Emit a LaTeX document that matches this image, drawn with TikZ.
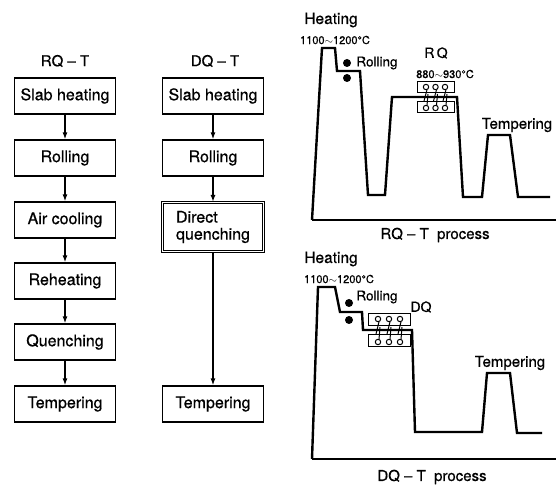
\documentclass[tikz,border=0pt]{standalone}
\usepackage{fontspec}
\setmainfont{TeX Gyre Heros}[FakeBold=0.6]
\usetikzlibrary{arrows.meta}

\begin{document}
\begin{tikzpicture}[x=1pt, y=-1pt,
    stepbox/.style={draw, line width=1.3pt, minimum width=101pt, minimum height=36pt, inner sep=1pt, font=\fontsize{16}{17}\selectfont},
    flow/.style={-{Latex[length=7pt,width=5pt]}, line width=1.8pt},
    curve/.style={line width=2.4pt, line join=miter},
    lbl/.style={inner sep=0pt, font=\fontsize{15}{16}\selectfont},
    small/.style={inner sep=0pt, font=\fontsize{11}{12}\selectfont}]
    \useasboundingbox (0,0) rectangle (557,486);

    % --- RQ-T flow (left) ---
    \node[lbl] (rqtitle) at (65,61) {RQ -- T};
    \node[stepbox] (rqslab) at (65,96) {Slab heating};
    \node[stepbox] (rqroll) at (65,158) {Rolling};
    \node[stepbox] (rqair) at (65,220) {Air cooling};
    \node[stepbox] (rqreheat) at (65,281) {Reheating};
    \node[stepbox] (rqquench) at (65,342) {Quenching};
    \node[stepbox] (rqtemper) at (65,404) {Tempering};

    \draw[flow] (rqslab) -- (rqroll);
    \draw[flow] (rqroll) -- (rqair);
    \draw[flow] (rqair) -- (rqreheat);
    \draw[flow] (rqreheat) -- (rqquench);
    \draw[flow] (rqquench) -- (rqtemper);

    % --- DQ-T flow (middle) ---
    \node[lbl] (dqtitle) at (215,61) {DQ -- T};
    \node[stepbox] (dqslab) at (213,96) {Slab heating};
    \node[stepbox] (dqroll) at (213,158) {Rolling};
    \node[stepbox, double, double distance=1.3pt, line width=1pt, minimum height=49pt, align=left] (dqquench) at (213,227) {Direct\\quenching};
    \node[stepbox] (dqtemper) at (213,404) {Tempering};

    \draw[flow] (dqslab) -- (dqroll);
    \draw[flow] (dqroll) -- (dqquench);
    \draw[flow] (dqquench) -- (dqtemper);

    % --- RQ-T process (top right) ---
    \draw[curve] (312,220) -- (556,220);
    \draw[curve] (312,220) -- (322,48) -- (335,48) -- (337,71) -- (360,71) -- (368,195) -- (385,195)
        -- (392,97) -- (457,97) -- (463,197) -- (482,197) -- (488,135) -- (510,135) -- (518,197) -- (550,197);
    \fill (347,63) circle (4);
    \fill (347,78) circle (4);
    \draw[line width=1pt] (417,82) rectangle (454,93);
    \draw[line width=1pt] (417,102) rectangle (454,113);
    \foreach \x in {426,435.5,445} {
        \draw[line width=1pt] (\x,87) circle (2.7);
        \draw[line width=1pt] (\x+1,89.7) -- (\x-2,101);
        \draw[line width=1pt] (\x,108) circle (2.7);
        \draw[line width=1pt] (\x+1,105.3) -- (\x+2,94);
    }

    \node[lbl, font=\fontsize{15.5}{16}\selectfont] (rqheat) at (331,20) {Heating};
    \node[small] (rqheattemp) at (335,40) {1100$\sim$1200°C};
    \node[lbl, font=\fontsize{13.5}{14}\selectfont] (rqrolling) at (377,63) {Rolling};
    \node[lbl, font=\fontsize{14}{15}\selectfont] (rqlabel) at (436,53) {R\,Q};
    \node[small] (rqtemp) at (445,74) {880$\sim$930°C};
    \node[lbl] (rqtempering) at (517,125) {Tempering};
    \node[lbl] (rqprocess) at (435,235) {RQ -- T\ \ process};

    % --- DQ-T process (bottom right) ---
    \draw[curve] (312,459) -- (556,459);
    \draw[curve] (312,459) -- (318,287) -- (335,287) -- (340,312) -- (362,312) -- (363,330) -- (412,330)
        -- (415,432) -- (482,432) -- (487,373) -- (510,373) -- (517,433) -- (542,433);
    \fill (349,303) circle (4);
    \fill (349,320) circle (4);
    \draw[line width=1pt] (368,314) rectangle (410,326);
    \draw[line width=1pt] (368,335) rectangle (410,347);
    \foreach \x in {378,389,400} {
        \draw[line width=1pt] (\x,319) circle (2.7);
        \draw[line width=1pt] (\x+1,321.7) -- (\x-2,334);
        \draw[line width=1pt] (\x,342) circle (2.7);
        \draw[line width=1pt] (\x+1,339.3) -- (\x+2,327);
    }

    \node[lbl, font=\fontsize{15.5}{16}\selectfont] (dqheat) at (331,259) {Heating};
    \node[small] (dqheattemp) at (339,279) {1100$\sim$1200°C};
    \node[lbl, font=\fontsize{13.5}{14}\selectfont] (dqrolling) at (377,297) {Rolling};
    \node[lbl, font=\fontsize{14}{15}\selectfont] (dqlabel) at (421,307) {DQ};
    \node[lbl] (dqtempering) at (510,363) {Tempering};
    \node[lbl] (dqprocess) at (432,477) {DQ -- T\ \ process};

\end{tikzpicture}
\end{document}
